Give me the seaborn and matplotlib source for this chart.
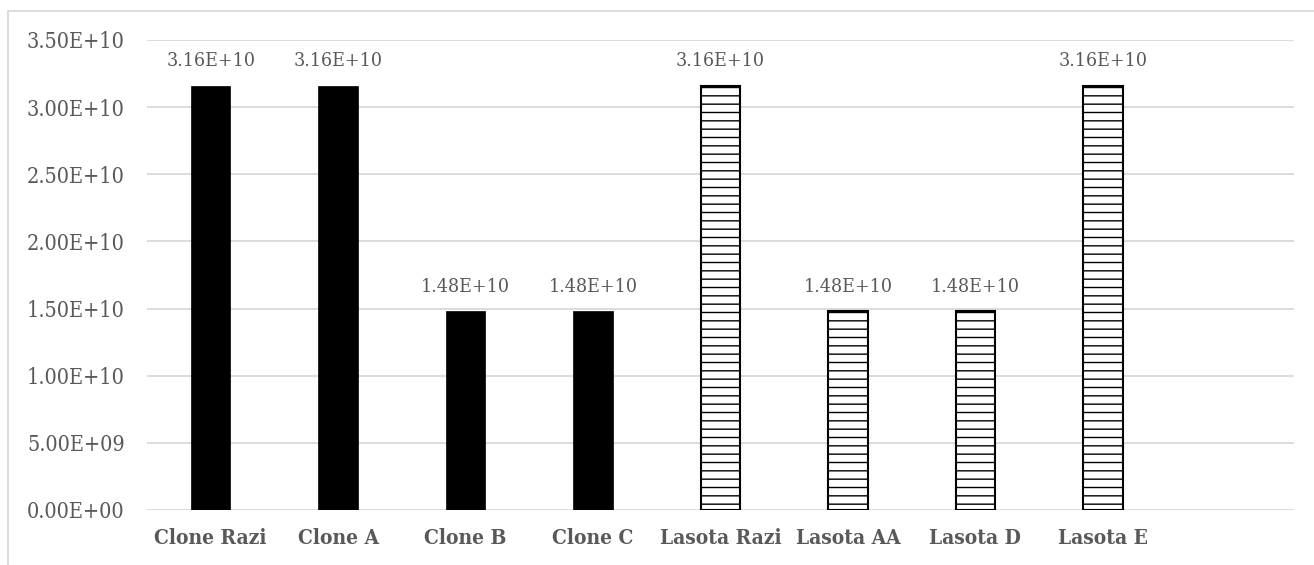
import matplotlib
matplotlib.use("Agg")
import matplotlib.pyplot as plt
import seaborn as sns
import pandas as pd
from matplotlib.patches import Rectangle

categories = ["Clone Razi", "Clone A", "Clone B", "Clone C",
              "Lasota Razi", "Lasota AA", "Lasota D", "Lasota E"]
values = [3.16e10, 3.16e10, 1.48e10, 1.48e10, 3.16e10, 1.48e10, 1.48e10, 3.16e10]
groups = ["Clone", "Clone", "Clone", "Clone", "Lasota", "Lasota", "Lasota", "Lasota"]
yticks = [0, 5e9, 1e10, 1.5e10, 2e10, 2.5e10, 3e10, 3.5e10]

df = pd.DataFrame({"cat": categories, "val": values, "grp": groups})

sns.set_theme(style="white")
plt.rcParams["font.family"] = ["DejaVu Serif"]
plt.rcParams["font.stretch"] = "condensed"
plt.rcParams["hatch.linewidth"] = 1.0

W, H = 1314, 565
fig = plt.figure(figsize=(W / 100, H / 100), dpi=100)
ax = fig.add_axes([147 / W, 1 - 510 / H, (1294 - 147) / W, (510 - 40) / H])

sns.barplot(data=df, x="cat", y="val", color="black", width=0.31, ax=ax,
            order=categories, errorbar=None, saturation=1)

for p, g in zip(ax.patches, groups):
    if g == "Lasota":
        p.set_facecolor("white")
        p.set_edgecolor("black")
        p.set_hatch("--")
        p.set_linewidth(1.5)
    else:
        p.set_facecolor("black")
        p.set_edgecolor("black")
        p.set_linewidth(0.5)

ax.set_xlim(-0.5, 8.5)
ax.set_ylim(0, 3.5e10)
ax.set_yticks(yticks)
ax.set_yticklabels(["{:.2E}".format(v) for v in yticks])
ax.yaxis.grid(True, color="#d9d9d9", linewidth=1.3)
ax.set_axisbelow(True)
for s in ax.spines.values():
    s.set_visible(False)
ax.set_xlabel("")
ax.set_ylabel("")
ax.tick_params(axis="y", length=0, pad=16, labelsize=15.5, labelcolor="#595959")
ax.tick_params(axis="x", length=0, pad=13, labelsize=15, labelcolor="#595959")
for t in ax.get_xticklabels():
    t.set_fontweight("bold")

ax.bar_label(ax.containers[0], labels=["{:.2E}".format(v) for v in values],
             padding=11, fontsize=14, color="#595959")

fig.patches.append(Rectangle((8 / W, -0.1), 1.2, 1 - 11 / H + 0.1,
                             transform=fig.transFigure, fill=False,
                             edgecolor="#d9d9d9", linewidth=1.3))

fig.savefig("out.png", dpi=100)
